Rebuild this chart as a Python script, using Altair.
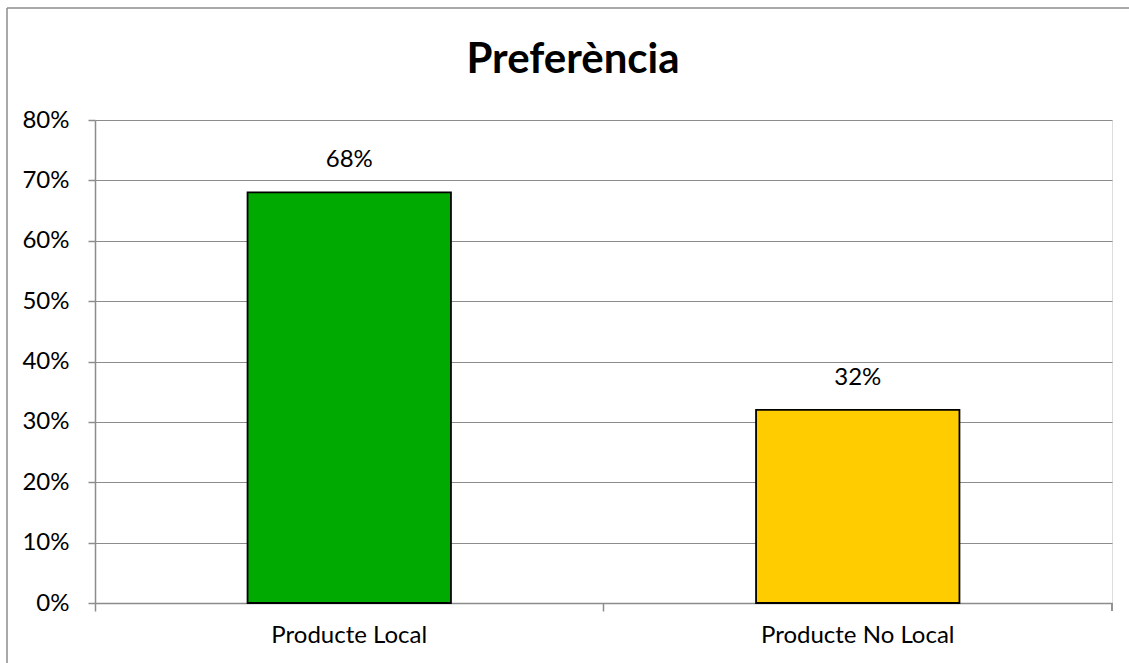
import altair as alt
import pandas as pd

categories = ["Producte Local", "Producte No Local"]
values = [0.68, 0.32]
colors = ["#00AA00", "#FFCC00"]
y_ticks = [0, 0.1, 0.2, 0.3, 0.4, 0.5, 0.6, 0.7, 0.8]
title_text = ["Preferència"]

df = pd.DataFrame({"cat": categories, "val": values, "color": colors})
df_title = pd.DataFrame({"t": title_text})

FONT = "Lato"
GRID = "#8c8c8c"
W, H = 1017, 483
FS = 24

x_enc = alt.X("cat:N", sort=categories, title=None,
              scale=alt.Scale(paddingInner=0, paddingOuter=0),
              axis=alt.Axis(labelAngle=0, labelFont=FONT, labelFontSize=FS,
                            labelColor="#000", labelPadding=12, labelLimit=0,
                            domainColor=GRID, domainWidth=1.5,
                            tickColor=GRID, tickWidth=1.5, tickSize=8,
                            bandPosition=0, grid=False))
y_enc = alt.Y("val:Q", title=None,
              scale=alt.Scale(domain=[0, 0.8]),
              axis=alt.Axis(values=y_ticks, format=".0%", labelFont=FONT,
                            labelFontSize=FS, labelColor="#000", labelPadding=19,
                            domainColor=GRID, domainWidth=1.5,
                            tickColor=GRID, tickWidth=1.5, tickSize=7,
                            grid=True, gridColor=GRID, gridWidth=1.2))

bars = alt.Chart(df).mark_bar(width={"band": 0.4}, stroke="#000",
                              strokeWidth=1.8).encode(
    x=x_enc, y=y_enc,
    color=alt.Color("color:N", scale=None),
)

labels = alt.Chart(df).mark_text(font=FONT, fontSize=FS, color="#000",
                                 baseline="alphabetic", dy=-25).encode(
    x=alt.X("cat:N", sort=categories),
    y="val:Q",
    text=alt.Text("val:Q", format=".0%"),
)

end_tick = alt.Chart(df).mark_rule(color=GRID, strokeWidth=1.5).encode(
    x=alt.value(W), y=alt.value(H), y2=alt.value(H + 8)
)

border_top = alt.Chart(df_title).mark_rule(color="#8c8c8c", strokeWidth=1.5,
                                           clip=False).encode(
    x=alt.value(-88), x2=alt.value(W + 17), y=alt.value(-112)
)
border_left = alt.Chart(df_title).mark_rule(color="#8c8c8c", strokeWidth=1.5,
                                            clip=False).encode(
    x=alt.value(-88), y=alt.value(-112), y2=alt.value(H + 60)
)

title = alt.Chart(df_title).mark_text(font=FONT, fontSize=42, fontWeight="bold",
                                      color="#000", baseline="alphabetic",
                                      align="center").encode(
    x=alt.value(478), y=alt.value(-47), text="t:N"
)

chart = alt.layer(border_top, border_left, bars, labels, end_tick, title).properties(
    width=W, height=H,
    padding={"left": 95, "top": 120, "right": 17, "bottom": 60},
    autosize=alt.AutoSizeParams(type="none"),
).configure_view(stroke=None).configure(background="white")

chart.save("out.html", embed_options={"renderer": "svg", "actions": False})
